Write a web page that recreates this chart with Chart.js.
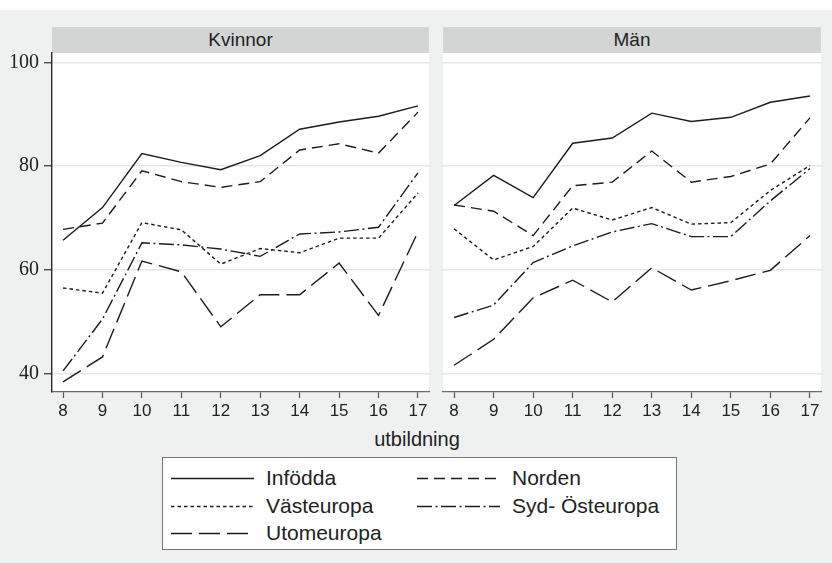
<!DOCTYPE html>
<html>
<head>
<meta charset="utf-8">
<script src="https://cdn.jsdelivr.net/npm/chart.js@4.4.0/dist/chart.umd.min.js"></script>
<style>
  body { margin: 0; background: #fff; font-family: "Liberation Sans", Arial, sans-serif; }
  #bg { position: absolute; left: 0; top: 10px; width: 832px; height: 553px; background: #eff1f0; }
  .strip { position: absolute; top: 27px; height: 26px; line-height: 26px; background: #d3d5d5;
           text-align: center; font-size: 19px; color: #222; }
  .panel { position: absolute; top: 33px; }
  #xtitle { position: absolute; left: 0; width: 834px; top: 427px; line-height: 24px; text-align: center;
            font-size: 20px; color: #222; }
  #legend { position: absolute; left: 162px; top: 457px; width: 513px; height: 91px; background: #fff;
            border: 1px solid #777; }
  .item { position: absolute; height: 24px; line-height: 24px; font-size: 21px; color: #222; white-space: nowrap; }
  .item canvas { position: absolute; left: 0; top: 0; }
  .item span { position: absolute; }
</style>
</head>
<body>
<div id="bg"></div>
<div class="strip" style="left:52px;width:377px;">Kvinnor</div>
<div class="strip" style="left:443px;width:378px;">Män</div>
<div class="panel" style="left:0px;width:440px;height:387px;"><canvas id="chart-kvinnor"></canvas></div>
<div class="panel" style="left:433px;width:399px;height:387px;"><canvas id="chart-man"></canvas></div>
<div id="xtitle">utbildning</div>
<div id="legend"></div>

<script>
// utbildning (år)
const utbildning = [8, 9, 10, 11, 12, 13, 14, 15, 16, 17];
const yTicks = [40, 60, 80, 100];

const grupper = ["Infödda", "Norden", "Västeuropa", "Syd- Östeuropa", "Utomeuropa"];

// Kvinnor
const kvinnorInfodda    = [65.7, 72.0, 82.4, 80.7, 79.3, 82.0, 87.1, 88.5, 89.6, 91.6];
const kvinnorNorden     = [67.8, 69.0, 79.1, 77.0, 75.9, 77.0, 83.1, 84.3, 82.5, 90.4];
const kvinnorVasteuropa = [56.5, 55.5, 69.1, 67.7, 61.1, 64.1, 63.3, 66.1, 66.1, 74.8];
const kvinnorSydOst     = [40.5, 50.5, 65.2, 64.8, 64.0, 62.6, 66.9, 67.3, 68.2, 78.7];
const kvinnorUtomeuropa = [38.4, 43.2, 61.7, 59.6, 49.0, 55.2, 55.2, 61.3, 51.2, 67.3];

// Män
const manInfodda    = [72.4, 78.2, 73.9, 84.4, 85.4, 90.2, 88.6, 89.4, 92.3, 93.5];
const manNorden     = [72.5, 71.3, 66.6, 76.2, 76.9, 82.9, 76.9, 78.0, 80.4, 89.3];
const manVasteuropa = [67.9, 61.9, 64.5, 71.9, 69.6, 72.0, 68.8, 69.1, 75.3, 80.1];
const manSydOst     = [50.8, 53.2, 61.4, 64.6, 67.3, 68.9, 66.4, 66.4, 73.3, 79.5];
const manUtomeuropa = [41.6, 46.6, 54.6, 58.0, 53.8, 60.4, 56.1, 57.9, 59.9, 66.6];

// linjestilar
const streck = [[], [11, 6], [3.5, 3], [15, 3.5, 2, 3.5], [21, 7]];
const linjeFarg = "#1c1c1c";

function punkter(values) {
  return values.map((v, i) => ({ x: utbildning[i], y: v }));
}

function datasets(serier) {
  return serier.map((s, i) => ({
    label: grupper[i],
    data: punkter(s),
    borderColor: linjeFarg,
    borderWidth: 1.4,
    borderDash: streck[i],
    pointRadius: 0,
    tension: 0,
    fill: false,
  }));
}

const plotBakgrund = {
  id: "plotBakgrund",
  beforeDraw(chart) {
    const a = chart.chartArea;
    const c = chart.ctx;
    c.save();
    c.fillStyle = "#ffffff";
    c.fillRect(a.left, a.top, a.right - a.left, a.bottom - a.top);
    c.restore();
  },
};

function skapaPanel(id, serier, visaY, pad) {
  const ctx = document.getElementById(id).getContext("2d");
  return new Chart(ctx, {
    type: "line",
    data: { datasets: datasets(serier) },
    plugins: [plotBakgrund],
    options: {
      responsive: true,
      maintainAspectRatio: false,
      animation: false,
      layout: { padding: pad },
      plugins: { legend: { display: false }, tooltip: { enabled: false } },
      scales: {
        x: {
          type: "linear",
          min: 7.72,
          max: 17.28,
          afterBuildTicks: (scale) => { scale.ticks = utbildning.map((v) => ({ value: v })); },
          afterFit: (scale) => { scale.height = 28; },
          border: { display: true, color: "#6a6a6a", width: 1.3 },
          grid: { display: true, drawOnChartArea: false, tickLength: 6, tickColor: "#555", tickWidth: 1.2 },
          ticks: {
            color: "#222",
            padding: 3,
            maxRotation: 0,
            font: { family: "Liberation Sans", size: 17 },
          },
        },
        y: {
          min: 36.44,
          max: 101.8,
          afterBuildTicks: (scale) => { scale.ticks = yTicks.map((v) => ({ value: v })); },
          afterFit: (scale) => { scale.width = visaY ? 52 : 0; },
          border: { display: visaY, color: "#2a2a2a", width: 1.4 },
          grid: {
            color: "#e6e6e6",
            lineWidth: 1.5,
            drawTicks: visaY,
            tickLength: 8,
            tickColor: "#333",
            tickWidth: 1.2,
          },
          ticks: {
            display: visaY,
            color: "#222",
            padding: 5,
            font: { family: "Liberation Serif", size: 20 },
          },
        },
      },
    },
  });
}

skapaPanel("chart-kvinnor",
  [kvinnorInfodda, kvinnorNorden, kvinnorVasteuropa, kvinnorSydOst, kvinnorUtomeuropa],
  true, { top: 20, right: 11, bottom: 0, left: 0 });
skapaPanel("chart-man",
  [manInfodda, manNorden, manVasteuropa, manSydOst, manUtomeuropa],
  false, { top: 20, right: 11, bottom: 0, left: 10 });

// förklaring
const legendPos = [
  { x: 8, y: 8 }, { x: 254, y: 8 },
  { x: 8, y: 36 }, { x: 254, y: 36 },
  { x: 8, y: 63 },
];
const legend = document.getElementById("legend");
grupper.forEach((namn, i) => {
  const item = document.createElement("div");
  item.className = "item";
  item.style.left = legendPos[i].x + "px";
  item.style.top = legendPos[i].y + "px";
  const cv = document.createElement("canvas");
  cv.width = 84;
  cv.height = 24;
  const c = cv.getContext("2d");
  c.strokeStyle = linjeFarg;
  c.lineWidth = 1.4;
  c.setLineDash(streck[i]);
  c.beginPath();
  c.moveTo(0, 12.5);
  c.lineTo(83, 12.5);
  c.stroke();
  const span = document.createElement("span");
  span.style.left = "95px";
  span.textContent = namn;
  item.appendChild(cv);
  item.appendChild(span);
  legend.appendChild(item);
});
</script>
</body>
</html>
